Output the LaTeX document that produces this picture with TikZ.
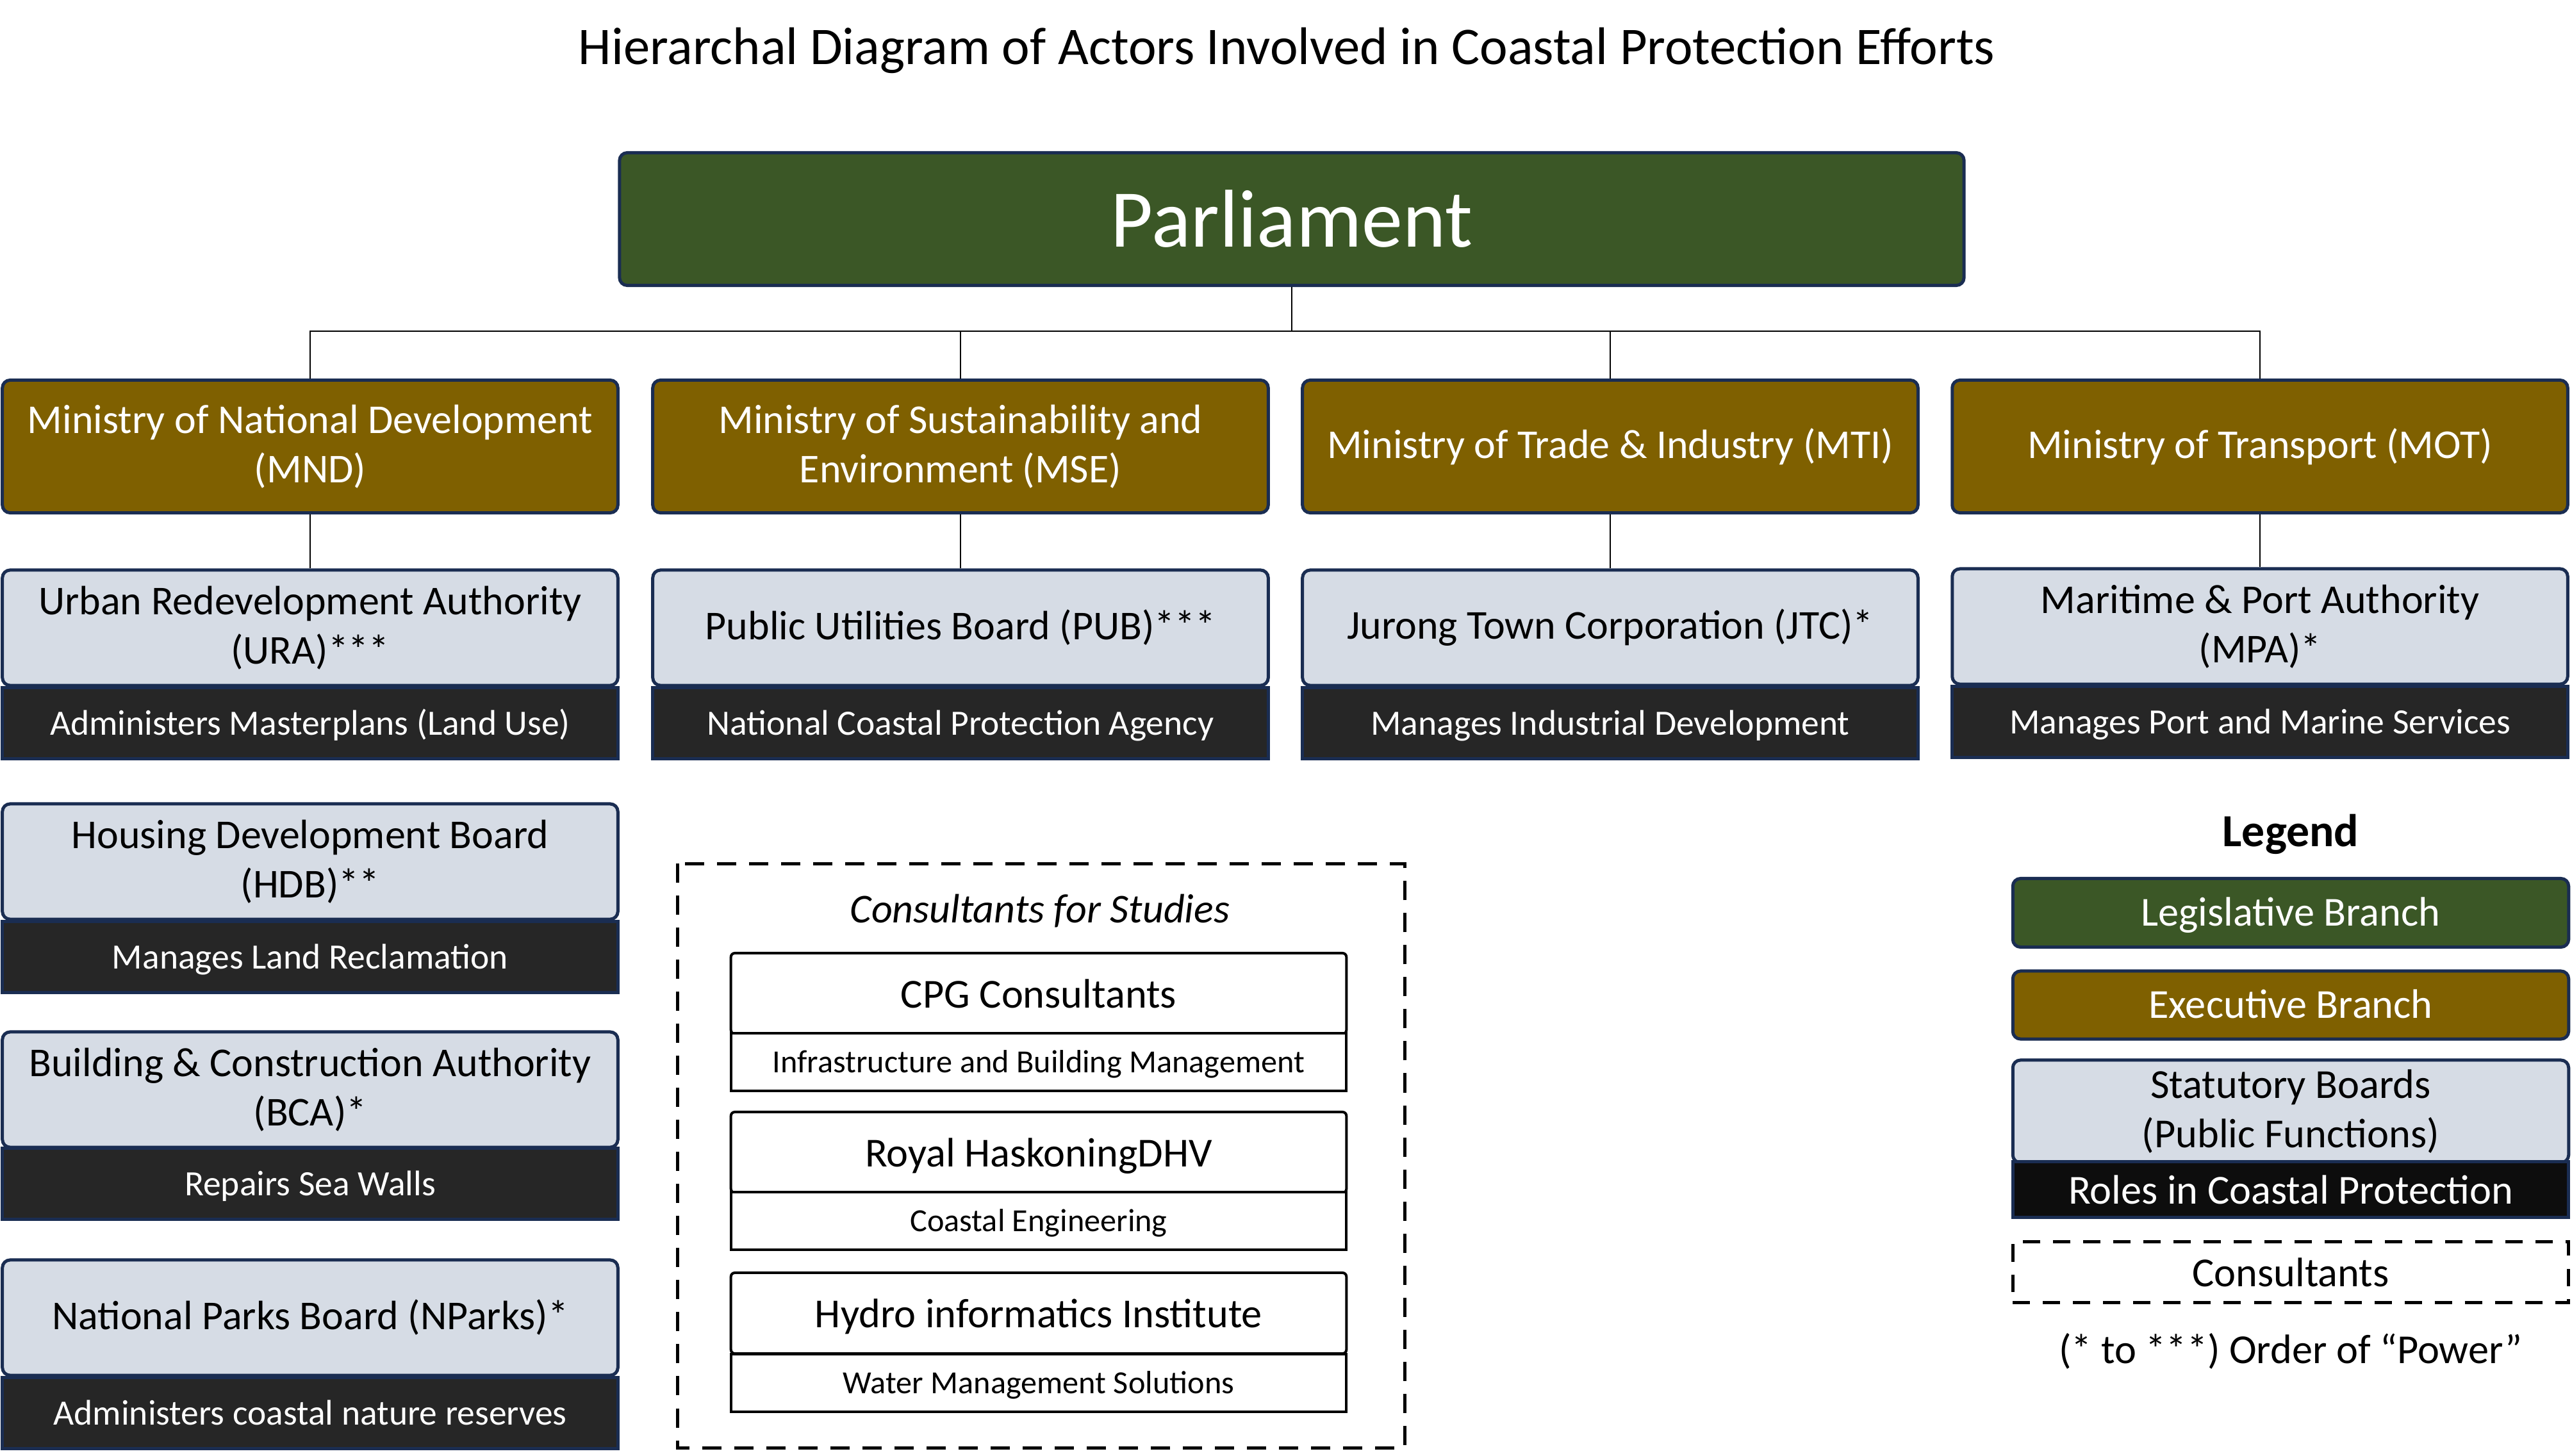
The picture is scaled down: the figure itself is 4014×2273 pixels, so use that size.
\documentclass[tikz,border=0pt]{standalone}
\usepackage{fontspec}
\setmainfont{Carlito}
\definecolor{parlgreen}{RGB}{59,87,38}
\definecolor{execolive}{RGB}{127,96,0}
\definecolor{boardgrey}{RGB}{214,220,229}
\definecolor{roleband}{RGB}{38,38,38}
\definecolor{legendband}{RGB}{13,13,13}
\definecolor{navyline}{RGB}{26,45,82}

\begin{document}
\begin{tikzpicture}[x=0.01cm,y=-0.01cm,
    every node/.style={inner sep=0pt, align=center},
    box/.style={draw=navyline, line width=0.05cm, rounded corners=0.12cm},
    ministry/.style={box, fill=execolive, text=white, minimum width=9.6cm, minimum height=2.07cm, font=\fontsize{18.2}{21.9}\selectfont},
    board/.style={box, fill=boardgrey, minimum width=9.6cm, minimum height=1.8cm, font=\fontsize{18.2}{21.9}\selectfont},
    roleband/.style={draw=navyline, line width=0.05cm, fill=roleband, text=white, minimum width=9.6cm, minimum height=1.1cm, text height=10.6pt, text depth=0pt, font=\fontsize{15.8}{19}\selectfont},
    firm/.style={draw, line width=0.04cm, fill=white, rounded corners=0.06cm, minimum width=9.6cm, minimum height=1.26cm, text height=13pt, text depth=0pt, font=\fontsize{18.3}{21.9}\selectfont},
    firmrole/.style={draw, line width=0.04cm, fill=white, minimum width=9.6cm, minimum height=0.9cm, text height=9.4pt, text depth=0pt, font=\fontsize{14.3}{16}\selectfont},
    legendbox/.style={box, minimum width=8.67cm, font=\fontsize{18.3}{21.9}\selectfont},
    link/.style={line width=0.5pt}]
  \useasboundingbox (0,0) rectangle (4014,2273);

  \node[anchor=base, font=\fontsize{23.5}{27}\selectfont] (title) at (2008,101) {Hierarchal Diagram of Actors Involved in Coastal Protection Efforts};

  \node[box, fill=parlgreen, text=white, minimum width=20.97cm, minimum height=2.07cm, font=\fontsize{36.4}{40}\selectfont] (parl) at (2016,342) {Parliament};

  \node[ministry] (mnd) at (484,697) {Ministry of National Development\\(MND)};
  \node[ministry] (mse) at (1499,697) {Ministry of Sustainability and\\Environment (MSE)};
  \node[ministry] (mti) at (2513,697) {Ministry of Trade \& Industry (MTI)};
  \node[ministry] (mot) at (3527,697) {Ministry of Transport (MOT)};

  \coordinate (bus) at (2016,517);
  \draw[link] (parl.south) -- (bus);
  \foreach \m in {mnd,mse,mti,mot}
    \draw[link] (\m.north) |- (bus);

  \node[board] (ura) at (484,980) {Urban Redevelopment Authority\\(URA)***};
  \node[roleband] (urarole) at (484,1129) {Administers Masterplans (Land Use)};
  \node[board] (pub) at (1499,980) {Public Utilities Board (PUB)***};
  \node[roleband] (pubrole) at (1499,1129) {National Coastal Protection Agency};
  \node[board] (jtc) at (2513,980) {Jurong Town Corporation (JTC)*};
  \node[roleband] (jtcrole) at (2513,1129) {Manages Industrial Development};
  \node[board] (mpa) at (3527,978) {Maritime \& Port Authority\\(MPA)*};
  \node[roleband] (mparole) at (3527,1127) {Manages Port and Marine Services};

  \draw[link] (mnd.south) -- (ura.north);
  \draw[link] (mse.south) -- (pub.north);
  \draw[link] (mti.south) -- (jtc.north);
  \draw[link] (mot.south) -- (mpa.north);

  \node[board] (hdb) at (484,1345) {Housing Development Board\\(HDB)**};
  \node[roleband] (hdbrole) at (484,1494) {Manages Land Reclamation};
  \node[board] (bca) at (484,1701) {Building \& Construction Authority\\(BCA)*};
  \node[roleband] (bcarole) at (484,1848) {Repairs Sea Walls};
  \node[board] (nparks) at (484,2057) {National Parks Board (NParks)*};
  \node[roleband] (nparksrole) at (484,2206) {Administers coastal nature reserves};

  \draw[line width=0.05cm, dash pattern=on 0.3cm off 0.2cm] (1057,1348) rectangle (2192,2260);
  \node[anchor=base, font=\fontsize{18.2}{21.9}\selectfont\itshape] (consult) at (1623,1440) {Consultants for Studies};

  \node[firm] (cpg) at (1621,1551) {CPG Consultants};
  \node[firmrole] (cpgrole) at (1621,1658) {Infrastructure and Building Management};
  \node[firm] (rhdhv) at (1621,1799) {Royal HaskoningDHV};
  \node[firmrole] (rhdhvrole) at (1621,1906) {Coastal Engineering};
  \node[firm] (hydro) at (1621,2050) {Hydro informatics Institute};
  \node[firmrole] (hydrorole) at (1621,2159) {Water Management Solutions};

  \node[anchor=base, font=\fontsize{20.4}{24}\selectfont\bfseries] (legend) at (3575,1321) {Legend};
  \node[legendbox, fill=parlgreen, text=white, minimum height=1.07cm, text height=11.4pt, text depth=0pt] (leg) at (3575,1425) {Legislative Branch};
  \node[legendbox, fill=execolive, text=white, minimum height=1.06cm, text height=11.4pt, text depth=0pt] (exe) at (3575,1569) {Executive Branch};
  \node[legendbox, fill=boardgrey, minimum height=1.6cm] (stat) at (3575,1735) {Statutory Boards\\(Public Functions)};
  \node[draw=navyline, line width=0.05cm, fill=legendband, text=white, minimum width=8.67cm, minimum height=0.86cm, font=\fontsize{18.3}{21.9}\selectfont] (statrole) at (3575,1857) {Roles in Coastal Protection};
  \node[draw, line width=0.05cm, dash pattern=on 0.27cm off 0.2cm, minimum width=8.67cm, minimum height=0.95cm, font=\fontsize{18.3}{21.9}\selectfont] (cons) at (3575,1986) {Consultants};
  \node[font=\fontsize{18.3}{21.9}\selectfont] (power) at (3575,2109) {(* to ***) Order of “Power”};
\end{tikzpicture}
\end{document}
